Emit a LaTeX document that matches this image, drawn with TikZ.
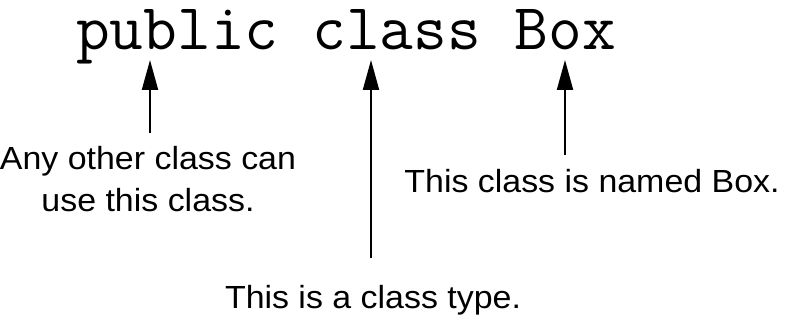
\documentclass[tikz,border=0pt]{standalone}
\usepackage{fontspec}
\setmainfont[FakeStretch=1.06]{Liberation Sans}
\usetikzlibrary{arrows.meta}
\tikzset{
  lbl/.style={inner sep=0pt, font=\fontsize{32}{42}\selectfont, align=center},
  code/.style={inner sep=0pt, font=\ttfamily\fontsize{65.5}{66}\selectfont},
  pointer/.style={line width=2pt, -{Triangle[width=16pt,length=30pt]}}
}
\begin{document}
\begin{tikzpicture}[x=1pt,y=-1pt]
\useasboundingbox (0,0) rectangle (797,320);
\node[code, anchor=base west] (title) at (76,50) {public class Box};
\node[lbl, anchor=base] (any) at (148,212) {Any other class can\\use this class.};
\node[lbl, anchor=base] (named) at (592,193) {This class is named Box.};
\node[lbl, anchor=base] (type) at (373,308) {This is a class type.};
\coordinate (t1) at (150,60);
\coordinate (b1) at (150,133);
\coordinate (t2) at (371,60);
\coordinate (b2) at (371,258);
\coordinate (t3) at (565,60);
\coordinate (b3) at (565,155);
\draw[pointer] (b1) -- (t1);
\draw[pointer] (b2) -- (t2);
\draw[pointer] (b3) -- (t3);
\end{tikzpicture}
\end{document}
